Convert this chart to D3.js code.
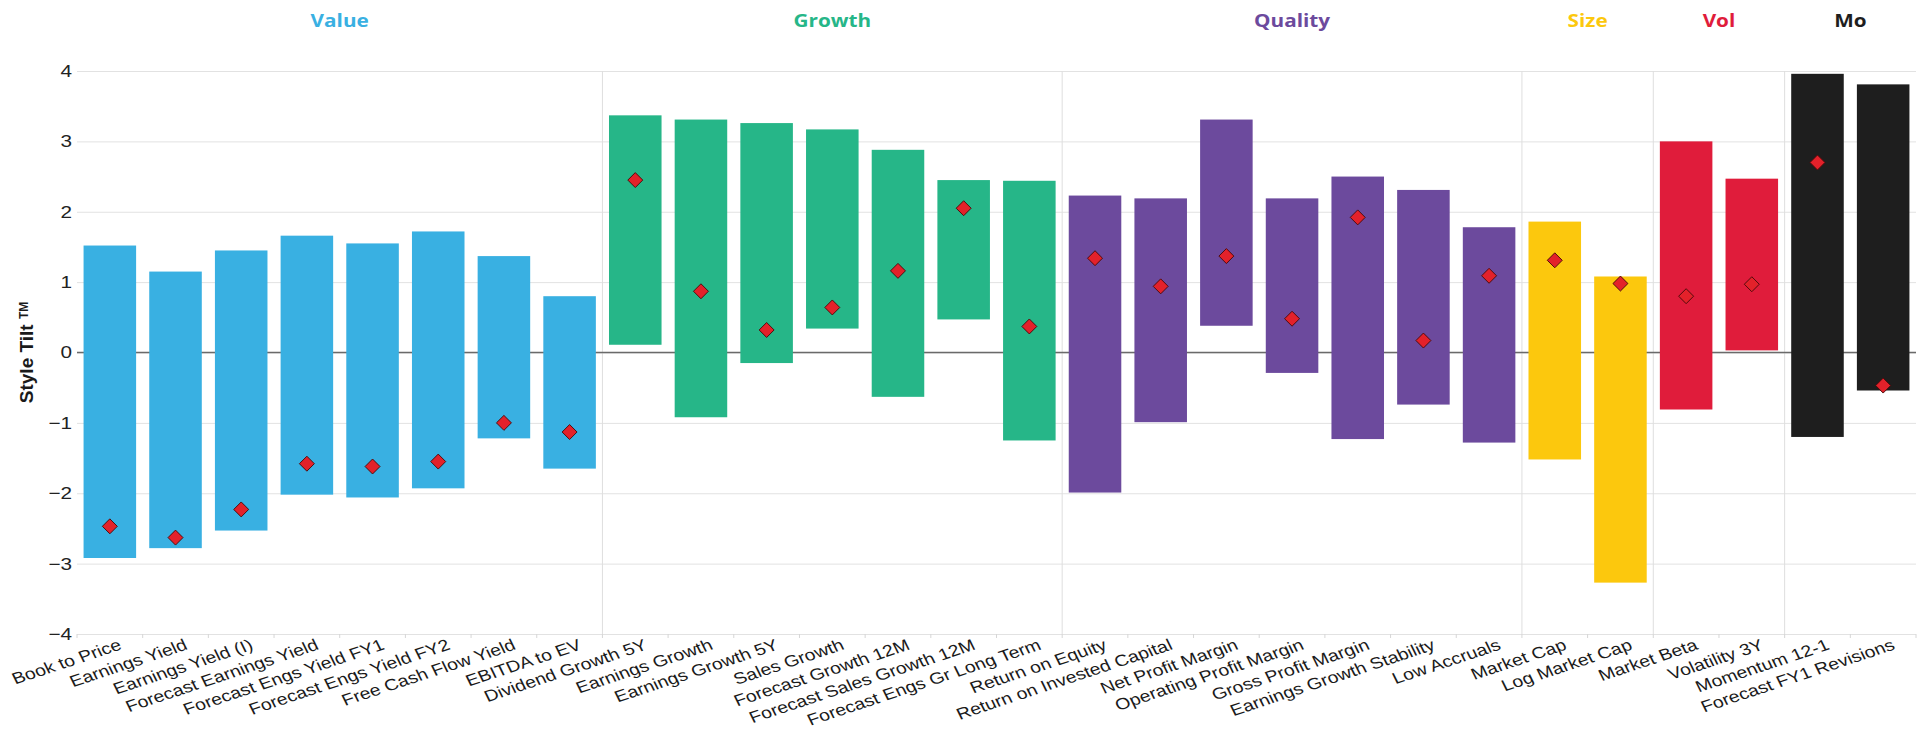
<!DOCTYPE html>
<html>
<head>
<meta charset="utf-8">
<script src="https://cdn.jsdelivr.net/npm/d3@7"></script>
<style>
	html, body { margin: 0; padding: 0; background: #fff; }
	svg { display: block; }
	.grid line { stroke: #e2e2e2; stroke-width: 1; }
	.grid .domain { display: none; }
	.y-axis text { font-family: 'Liberation Sans', Arial, sans-serif; font-size: 17px; fill: #222; }
	.x-label { font-family: 'Liberation Sans', Arial, sans-serif; font-size: 16px; fill: #1a1a1a; }
	.group-label { font-family: 'Open Sans', sans-serif; font-size: 17px; font-weight: 700; }
</style>
</head>
<body>
<div id="chart"></div>
<script>
const groups = ['Value', 'Growth', 'Quality', 'Size', 'Vol', 'Mo'];

const factors = [
	'Book to Price', 'Earnings Yield', 'Earnings Yield (I)', 'Forecast Earnings Yield',
	'Forecast Engs Yield FY1', 'Forecast Engs Yield FY2', 'Free Cash Flow Yield', 'EBITDA to EV',
	'Dividend Growth 5Y', 'Earnings Growth', 'Earnings Growth 5Y', 'Sales Growth',
	'Forecast Growth 12M', 'Forecast Sales Growth 12M', 'Forecast Engs Gr Long Term',
	'Return on Equity', 'Return on Invested Capital', 'Net Profit Margin', 'Operating Profit Margin',
	'Gross Profit Margin', 'Earnings Growth Stability', 'Low Accruals',
	'Market Cap', 'Log Market Cap',
	'Market Beta', 'Volatility 3Y',
	'Momentum 12-1', 'Forecast FY1 Revisions'
];

const factorGroup = [
	'Value', 'Value', 'Value', 'Value', 'Value', 'Value', 'Value', 'Value',
	'Growth', 'Growth', 'Growth', 'Growth', 'Growth', 'Growth', 'Growth',
	'Quality', 'Quality', 'Quality', 'Quality', 'Quality', 'Quality', 'Quality',
	'Size', 'Size',
	'Vol', 'Vol',
	'Mo', 'Mo'
];

// range of the tilt (top / bottom of each bar) and the current tilt (diamond)
const tiltHigh = [
	1.52, 1.15, 1.45, 1.66, 1.55, 1.72, 1.37, 0.80,
	3.37, 3.31, 3.26, 3.17, 2.88, 2.45, 2.44,
	2.23, 2.19, 3.31, 2.19, 2.50, 2.31, 1.78,
	1.86, 1.08,
	3.00, 2.47,
	3.96, 3.81
];
const tiltLow = [
	-2.92, -2.78, -2.53, -2.02, -2.06, -1.93, -1.22, -1.65,
	0.11, -0.92, -0.15, 0.34, -0.63, 0.47, -1.25,
	-1.99, -0.99, 0.38, -0.29, -1.23, -0.74, -1.28,
	-1.52, -3.27,
	-0.81, 0.03,
	-1.20, -0.54
];
const tiltNow = [
	-2.47, -2.63, -2.23, -1.58, -1.62, -1.55, -1.00, -1.13,
	2.45, 0.87, 0.32, 0.64, 1.16, 2.05, 0.37,
	1.34, 0.94, 1.37, 0.48, 1.92, 0.17, 1.09,
	1.31, 0.98,
	0.80, 0.97,
	2.70, -0.47
];

const yTicks = [4, 3, 2, 1, 0, -1, -2, -3, -4];

const GROUP_COLORS = {
	Value: '#39b0e2',
	Growth: '#26b688',
	Quality: '#6c4a9d',
	Size: '#fcc80d',
	Vol: '#e01c3b',
	Mo: '#1e1e1e'
};

const WIDTH = 1917;
const HEIGHT = 735;
const PLOT_LEFT = 77;
const PLOT_RIGHT = 1916;
const PLOT_TOP = 71;
const PLOT_BOTTOM = 634;
const STRETCH = 1.22; // the text in the original is set wide

const data = factors.map((f, i) => ({
	name: f,
	group: factorGroup[i],
	high: tiltHigh[i],
	low: tiltLow[i],
	now: tiltNow[i]
}));

const svg = d3.select('#chart').append('svg')
	.attr('width', WIDTH)
	.attr('height', HEIGHT);

const xScale = d3.scaleBand()
	.domain(factors)
	.range([PLOT_LEFT, PLOT_RIGHT])
	.paddingInner(0.2)
	.paddingOuter(0.1);

const yScale = d3.scaleLinear()
	.domain([-4, 4])
	.range([PLOT_BOTTOM, PLOT_TOP]);

const step = xScale.step();
const edge = (name) => xScale(name) - step * 0.1;

// horizontal grid + y labels
const yAxis = svg.append('g')
	.attr('class', 'grid y-axis')
	.attr('transform', 'translate(' + PLOT_LEFT + ',0)')
	.call(d3.axisLeft(yScale)
		.tickValues(yTicks)
		.tickSize(-(PLOT_RIGHT - PLOT_LEFT))
		.tickPadding(4)
		.tickFormat(d3.format('d')));

yAxis.selectAll('text')
	.attr('transform', 'scale(' + STRETCH + ',1)');

// group dividers
const groupSpans = groups.map((g) => {
	const members = data.filter((d) => d.group === g);
	const x0 = edge(members[0].name);
	const x1 = edge(members[members.length - 1].name) + step;
	return { group: g, x0: x0, x1: x1 };
});

svg.append('g')
	.attr('class', 'dividers')
	.selectAll('line')
	.data(groupSpans.slice(1))
	.join('line')
	.attr('x1', (d) => d.x0)
	.attr('x2', (d) => d.x0)
	.attr('y1', PLOT_TOP)
	.attr('y2', PLOT_BOTTOM)
	.attr('stroke', '#dedede')
	.attr('stroke-width', 1);

// small ticks on the bottom axis between categories
svg.append('g')
	.attr('class', 'x-ticks')
	.selectAll('line')
	.data(factors.concat(['__end']))
	.join('line')
	.attr('x1', (d, i) => PLOT_LEFT + i * step)
	.attr('x2', (d, i) => PLOT_LEFT + i * step)
	.attr('y1', PLOT_BOTTOM)
	.attr('y2', PLOT_BOTTOM + 4)
	.attr('stroke', '#d6d6d6');

// zero line
svg.append('line')
	.attr('x1', PLOT_LEFT)
	.attr('x2', PLOT_RIGHT)
	.attr('y1', yScale(0))
	.attr('y2', yScale(0))
	.attr('stroke', '#6a6a6a')
	.attr('stroke-width', 1.3);

// bars
svg.append('g')
	.attr('class', 'bars')
	.selectAll('rect')
	.data(data)
	.join('rect')
	.attr('x', (d) => xScale(d.name))
	.attr('width', xScale.bandwidth())
	.attr('y', (d) => yScale(d.high))
	.attr('height', (d) => yScale(d.low) - yScale(d.high))
	.attr('fill', (d) => GROUP_COLORS[d.group]);

// current tilt markers
const diamond = d3.symbol().type(d3.symbolSquare).size(112);

svg.append('g')
	.attr('class', 'points')
	.selectAll('path')
	.data(data)
	.join('path')
	.attr('d', diamond)
	.attr('transform', (d) => 'translate(' + (xScale(d.name) + xScale.bandwidth() / 2) + ',' + yScale(d.now) + ') rotate(45)')
	.attr('fill', '#e3212a')
	.attr('stroke', '#4a0b0b')
	.attr('stroke-width', 0.9);

// category labels
svg.append('g')
	.attr('class', 'x-labels')
	.selectAll('text')
	.data(data)
	.join('text')
	.attr('class', 'x-label')
	.attr('text-anchor', 'end')
	.attr('transform', (d) => 'translate(' + (xScale(d.name) + xScale.bandwidth() / 2 + 13) + ',' + (PLOT_BOTTOM + 15) + ') scale(' + STRETCH + ',1) rotate(-22)')
	.text((d) => d.name);

// group headers
svg.append('g')
	.attr('class', 'group-labels')
	.selectAll('text')
	.data(groupSpans)
	.join('text')
	.attr('class', 'group-label')
	.attr('text-anchor', 'middle')
	.attr('transform', (d) => 'translate(' + ((d.x0 + d.x1) / 2) + ',27) scale(' + STRETCH + ',1)')
	.attr('fill', (d) => GROUP_COLORS[d.group])
	.text((d) => d.group);

// y axis title
const yTitle = svg.append('text')
	.attr('transform', 'translate(33,' + yScale(0) + ') rotate(-90)')
	.attr('text-anchor', 'middle')
	.style('font-family', "'Liberation Sans', Arial, sans-serif")
	.style('font-size', '19px')
	.style('font-weight', 700)
	.attr('fill', '#1a1a1a');

yTitle.append('tspan').text('Style Tilt ');
yTitle.append('tspan')
	.attr('dy', -5)
	.style('font-size', '12px')
	.text('TM');
</script>
</body>
</html>
